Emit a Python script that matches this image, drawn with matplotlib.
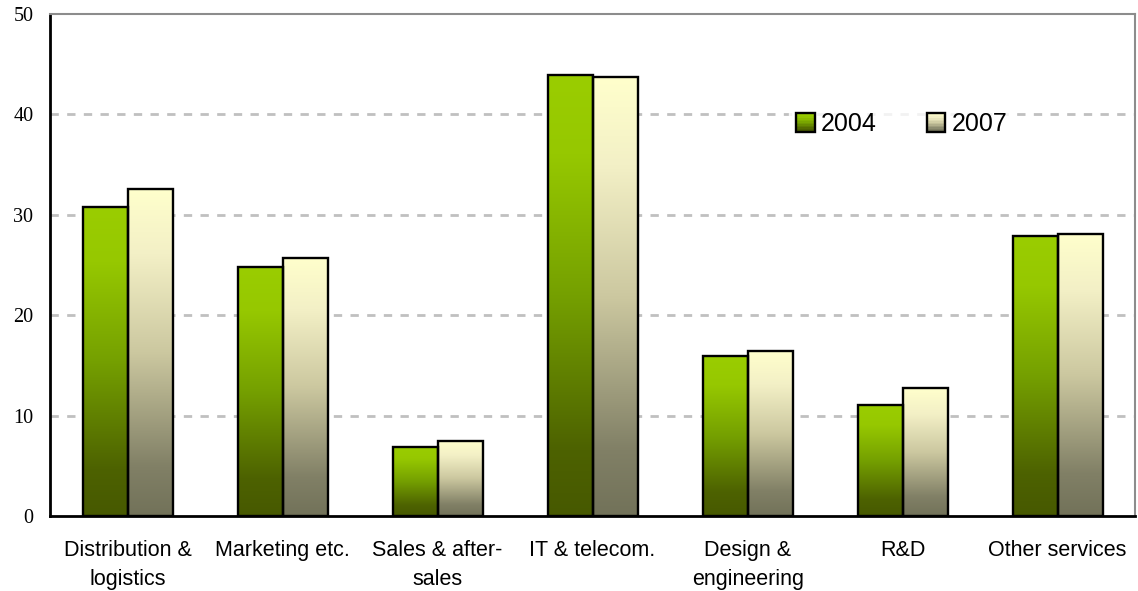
import numpy as np
import matplotlib.pyplot as plt
from matplotlib.colors import LinearSegmentedColormap
from matplotlib.patches import Rectangle
from matplotlib.legend_handler import HandlerBase

# ---------- DATA ----------
categories = ["Distribution &\nlogistics", "Marketing etc.", "Sales & after-\nsales",
              "IT & telecom.", "Design &\nengineering", "R&D", "Other services"]
values_2004 = [30.8, 24.8, 6.9, 43.9, 15.9, 11.0, 27.9]
values_2007 = [32.6, 25.7, 7.5, 43.7, 16.4, 12.7, 28.1]
series_labels = ["2004", "2007"]
y_ticks = [0, 10, 20, 30, 40, 50]
# --------------------------

BAR_W = 0.29

# vertical gradients, bottom -> top
cmap_2004 = LinearSegmentedColormap.from_list(
    "g2004", [(0.0, "#475900"), (0.15, "#4d6200"), (0.5, "#75a000"),
              (0.82, "#96c800"), (1.0, "#9acd00")])
cmap_2007 = LinearSegmentedColormap.from_list(
    "g2007", [(0.0, "#727259"), (0.15, "#818066"), (0.5, "#ccc8a0"),
              (0.8, "#f3f0c6"), (1.0, "#ffffcc")])

grad = np.linspace(0, 1, 256).reshape(-1, 1)

fig = plt.figure(figsize=(11.38, 5.91), dpi=100)
ax = fig.add_axes([0.044, 0.127, 0.9535, 0.8495])

x = np.arange(len(categories))


def gradient_bar(ax, x0, h, cmap):
    ax.imshow(grad, cmap=cmap, origin="lower", aspect="auto",
              extent=[x0, x0 + BAR_W, 0, h], zorder=2, interpolation="bicubic")
    ax.add_patch(Rectangle((x0, 0), BAR_W, h, facecolor="none",
                           edgecolor="black", linewidth=1.7, zorder=3))


for i in range(len(categories)):
    gradient_bar(ax, x[i] - BAR_W, values_2004[i], cmap_2004)
    gradient_bar(ax, x[i], values_2007[i], cmap_2007)

ax.set_xlim(-0.5, len(categories) - 0.5)
ax.set_ylim(0, 50)
ax.set_yticks(y_ticks)
ax.set_yticklabels([str(t) for t in y_ticks], family="Liberation Serif", fontsize=14.5)
ax.set_xticks(x)
ax.set_xticklabels(categories, family="Liberation Sans", fontsize=15.5,
                   linespacing=1.5)
ax.tick_params(axis="both", length=0)
ax.tick_params(axis="y", pad=12)
ax.tick_params(axis="x", pad=17)

# dashed gridlines behind the bars
for t in y_ticks[1:-1]:
    ax.axhline(t, color="#c0c0c0", linewidth=2, linestyle=(0, (3, 3)), zorder=1)

for side in ["top", "right"]:
    ax.spines[side].set_color("#8c8c8c")
    ax.spines[side].set_linewidth(1.5)
for side in ["left", "bottom"]:
    ax.spines[side].set_color("black")
    ax.spines[side].set_linewidth(2)


class GradientSquare(HandlerBase):
    def __init__(self, cmap):
        super().__init__()
        self.cmap = cmap

    def create_artists(self, legend, orig_handle, xdescent, ydescent,
                       width, height, fontsize, trans):
        side = height * 1.05
        x0 = (width - side) / 2 - xdescent
        y0 = (height - side) / 2 - ydescent
        arts = []
        n = 12
        for k in range(n):
            c = self.cmap((k + 0.5) / n)
            arts.append(Rectangle((x0, y0 + side * k / n), side, side / n,
                                  facecolor=c, edgecolor="none", transform=trans))
        arts.append(Rectangle((x0, y0), side, side, facecolor="none",
                              edgecolor="black", linewidth=1.7, transform=trans))
        return arts


h1, h2 = Rectangle((0, 0), 1, 1), Rectangle((0, 0), 1, 1)
leg = ax.legend([h1, h2], series_labels, loc="center", bbox_to_anchor=(0.785, 0.78),
                ncol=2, frameon=True, prop={"family": "Liberation Sans", "size": 18},
                handler_map={h1: GradientSquare(cmap_2004), h2: GradientSquare(cmap_2007)},
                handlelength=0.75, handletextpad=0.25, columnspacing=2.0,
                borderpad=0.3, fancybox=False)
leg.get_frame().set_edgecolor("white")
leg.get_frame().set_facecolor("white")
leg.set_zorder(4)

fig.savefig("out.png", dpi=100)
